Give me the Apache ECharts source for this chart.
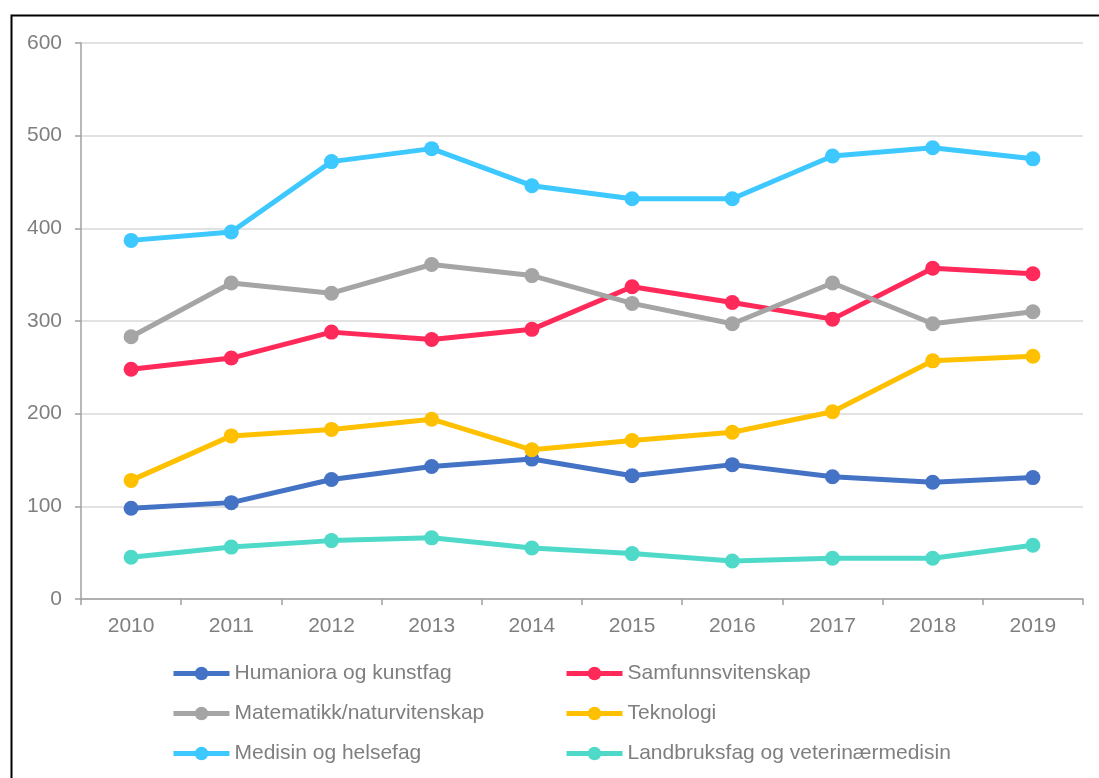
<!DOCTYPE html>
<html>
<head>
<meta charset="utf-8">
<script src="https://cdn.jsdelivr.net/npm/echarts@6/dist/echarts.min.js"></script>
<style>
  html, body { margin: 0; padding: 0; background: #fff; }
  #chart { width: 1099px; height: 778px; }
</style>
</head>
<body>
<div id="chart"></div>
<script>
const years = ['2010', '2011', '2012', '2013', '2014', '2015', '2016', '2017', '2018', '2019']
const yTicks = [0, 100, 200, 300, 400, 500, 600]

const humaniora = [98, 104, 129, 143, 151, 133, 145, 132, 126, 131]
const samfunn = [248, 260, 288, 280, 291, 337, 320, 302, 357, 351]
const matematikk = [283, 341, 330, 361, 349, 319, 297, 341, 297, 310]
const teknologi = [128, 176, 183, 194, 161, 171, 180, 202, 257, 262]
const medisin = [387, 396, 472, 486, 446, 432, 432, 478, 487, 475]
const landbruk = [45, 56, 63, 66, 55, 49, 41, 44, 44, 58]

const seriesList = [
  { name: 'Humaniora og kunstfag', data: humaniora, color: '#4472C4' },
  { name: 'Samfunnsvitenskap', data: samfunn, color: '#FF2A5A' },
  { name: 'Matematikk/naturvitenskap', data: matematikk, color: '#A5A5A5' },
  { name: 'Teknologi', data: teknologi, color: '#FFC000' },
  { name: 'Medisin og helsefag', data: medisin, color: '#3DC8FF' },
  { name: 'Landbruksfag og veterinærmedisin', data: landbruk, color: '#4FD9C9' },
]

const textGray = '#7F7F7F'
const font = 'Liberation Sans, Arial, sans-serif'

const chart = echarts.init(document.getElementById('chart'))

const legendBase = {
  orient: 'vertical',
  top: 658,
  itemWidth: 56,
  itemHeight: 17,
  itemGap: 19,
  lineStyle: { width: 5 },
  textStyle: { color: textGray, fontSize: 21, fontFamily: font },
}

chart.setOption({
  animation: false,
  graphic: [{
    type: 'rect',
    left: 9,
    top: 13,
    shape: { width: 1200, height: 900 },
    style: { fill: 'none', stroke: '#000', lineWidth: 2 },
    silent: true,
  }],
  legend: [
    Object.assign({}, legendBase, {
      left: 166,
      data: [seriesList[0].name, seriesList[2].name, seriesList[4].name],
    }),
    Object.assign({}, legendBase, {
      left: 559,
      data: [seriesList[1].name, seriesList[3].name, seriesList[5].name],
    }),
  ],
  grid: {
    left: 81,
    right: 16,
    top: 43,
    bottom: 179,
  },
  xAxis: {
    type: 'category',
    data: years,
    boundaryGap: true,
    axisLine: { lineStyle: { color: '#A0A0A0', width: 1.5 } },
    axisTick: { show: true, length: 6, lineStyle: { color: '#A0A0A0', width: 1.5 } },
    axisLabel: { color: textGray, fontSize: 21, fontFamily: font, margin: 17 },
    splitLine: { show: false },
  },
  yAxis: {
    type: 'value',
    min: yTicks[0],
    max: yTicks[yTicks.length - 1],
    interval: 100,
    axisLine: { show: true, lineStyle: { color: '#A0A0A0', width: 1.5 } },
    axisTick: { show: true, length: 6, lineStyle: { color: '#A0A0A0', width: 1.5 } },
    axisLabel: { color: textGray, fontSize: 21, fontFamily: font, margin: 19 },
    splitLine: { lineStyle: { color: '#D9D9D9', width: 1.5 } },
  },
  series: seriesList.map((s) => ({
    name: s.name,
    type: 'line',
    data: s.data,
    symbol: 'circle',
    symbolSize: 15,
    lineStyle: { width: 5, color: s.color },
    itemStyle: { color: s.color },
  })),
})
</script>
</body>
</html>
